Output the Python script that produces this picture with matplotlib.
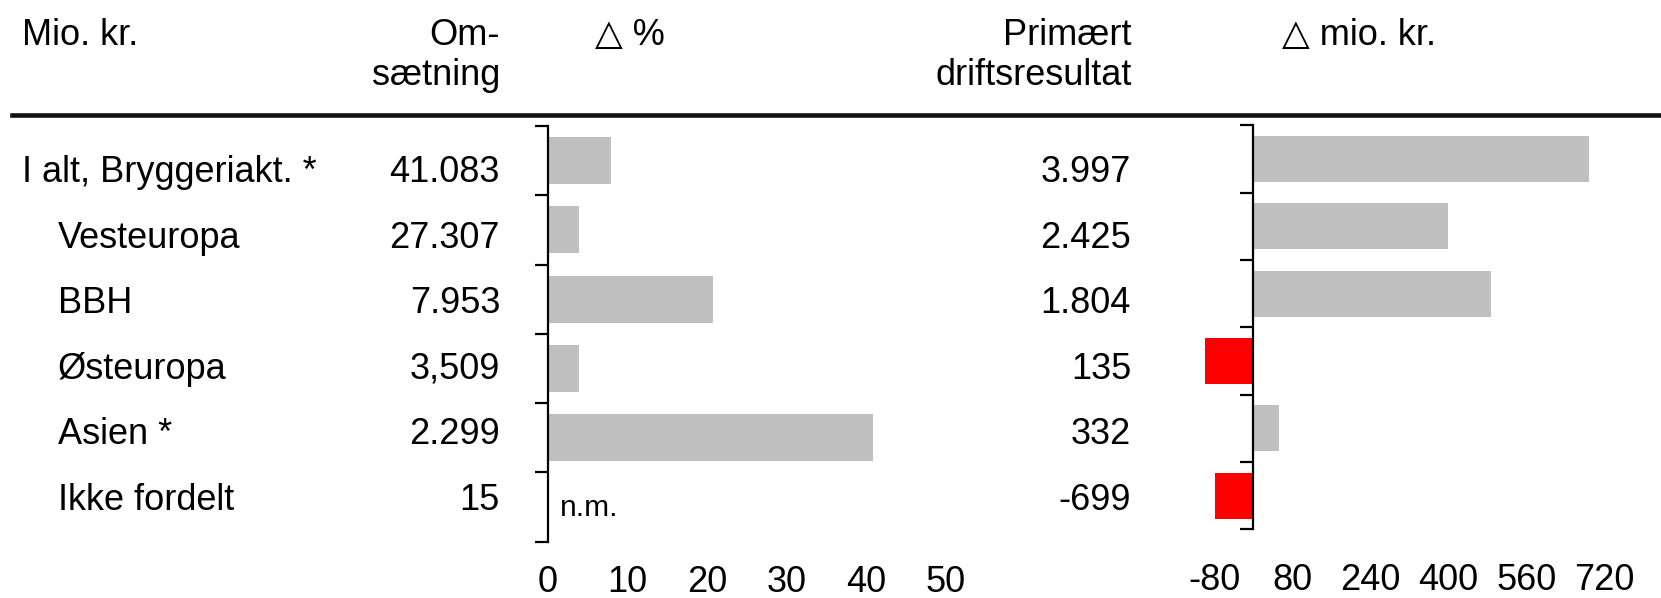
import numpy as np
import matplotlib
matplotlib.use('Agg')
import matplotlib.pyplot as plt
from matplotlib.lines import Line2D

plt.rcParams['font.family'] = ['Liberation Sans', 'DejaVu Sans']
plt.rcParams['axes.unicode_minus'] = False

# Data
categories = ['I alt, Bryggeriakt. *', 'Vesteuropa', 'BBH', 'Østeuropa', 'Asien *', 'Ikke fordelt']
omsaetning = ['41.083', '27.307', '7.953', '3,509', '2.299', '15']
delta_pct = [7.9, 3.9, 20.7, 3.9, 40.8, np.nan]
primaert = ['3.997', '2.425', '1.804', '135', '332', '-699']
delta_mio = [689, 399, 487, -99, 53, -78]

pct_ticks = [0, 10, 20, 30, 40, 50]
mio_ticks = [-80, 80, 240, 400, 560, 720]

W, H = 1661, 598
fig = plt.figure(figsize=(W / 100, H / 100), dpi=100)


def fx(px):
    return px / W


def fy(py):
    return 1 - py / H


fs = 26

# Header texts
fig.text(fx(22), fy(45), 'Mio. kr.', fontsize=fs, ha='left', va='baseline')
fig.text(fx(500), fy(45), 'Om-', fontsize=fs, ha='right', va='baseline')
fig.text(fx(500), fy(85), 'sætning', fontsize=fs, ha='right', va='baseline')
fig.text(fx(595), fy(45), '△ %', fontsize=fs, ha='left', va='baseline')
fig.text(fx(1132), fy(45), 'Primært', fontsize=fs, ha='right', va='baseline')
fig.text(fx(1132), fy(85), 'driftsresultat', fontsize=fs, ha='right', va='baseline')
fig.text(fx(1282), fy(45), '△ mio. kr.', fontsize=fs, ha='left', va='baseline')

# thick rule under the header
fig.add_artist(Line2D([fx(12), 1.0], [fy(115), fy(115)], transform=fig.transFigure,
                      color='#111111', linewidth=3.3))

# Row texts
row_base = 182
row_step = 65.6
for i, name in enumerate(categories):
    yb = fy(row_base + i * row_step)
    xl = 22 if i == 0 else 58
    fig.text(fx(xl), yb, name, fontsize=fs, ha='left', va='baseline')
    fig.text(fx(500), yb, omsaetning[i], fontsize=fs, ha='right', va='baseline')
    fig.text(fx(1131), yb, primaert[i], fontsize=fs, ha='right', va='baseline')

y = np.arange(len(categories))


def style_axis(ax, pad):
    for s in ['top', 'right', 'bottom']:
        ax.spines[s].set_visible(False)
    ax.spines['left'].set_linewidth(1.6)
    ax.spines['left'].set_position(('data', 0))
    ax.set_ylim(len(categories) - 0.5, -0.5)
    ax.set_yticks(np.arange(-0.5, len(categories), 1.0))
    ax.set_yticklabels([])
    ax.tick_params(axis='y', direction='out', length=9.5, width=1.6)
    ax.tick_params(axis='x', length=0, pad=pad, labelsize=26)
    ax.patch.set_visible(False)


# Left panel: change in %
ax1 = fig.add_axes([fx(547.7), fy(541.7), fx(946 - 547.7), (541.7 - 126) / H])
ax1.barh(y, delta_pct, height=0.68, color='#c0c0c0', zorder=1)
ax1.set_xlim(0, 50)
ax1.set_xticks(pct_ticks)
style_axis(ax1, 16.5)
ax1.text(1.5, 5.13, 'n.m.', fontsize=21.5, ha='left', va='baseline')

# Right panel: change in mio. kr.
ax2 = fig.add_axes([fx(1253.3 - 120 * 0.4875), fy(529.3), fx(880 * 0.4875), (529.3 - 125.3) / H])
colors = ['red' if v < 0 else '#c0c0c0' for v in delta_mio]
ax2.barh(y, delta_mio, height=0.68, color=colors, zorder=1)
ax2.set_xlim(-120, 760)
ax2.set_xticks(mio_ticks)
style_axis(ax2, 24)

plt.savefig('out.png', dpi=100)
